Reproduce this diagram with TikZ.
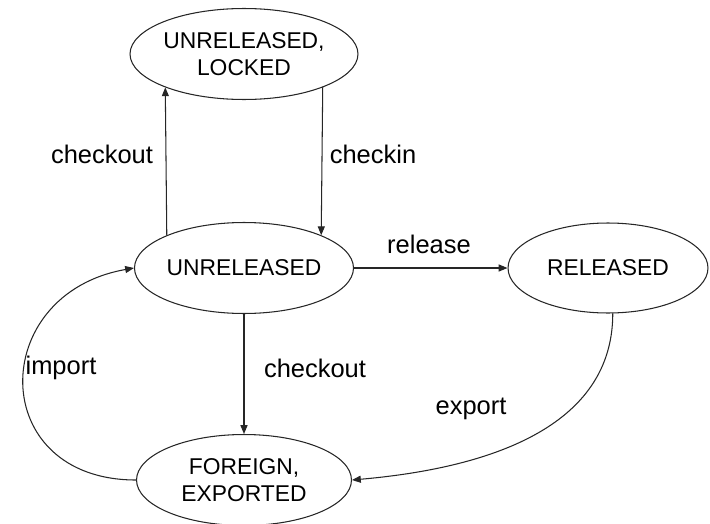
\documentclass[tikz,border=0pt]{standalone}
\usepackage{fontspec}
\setmainfont{Liberation Sans}
\usetikzlibrary{arrows.meta, shapes.geometric}

\tikzset{
  state/.style={ellipse, draw=black!85, line width=0.6pt, align=center,
    minimum width=4.3cm, minimum height=1.82cm, inner sep=0pt,
    font=\fontsize{13}{15}\selectfont},
  trans/.style={-{Triangle[length=5pt, width=4pt]}, black!85, line width=0.6pt},
  lbl/.style={font=\fontsize{14.5}{16}\selectfont, inner sep=0pt}
}

\begin{document}
\begin{tikzpicture}[x=0.02cm, y=-0.02cm, line cap=round, line join=round]

  \useasboundingbox (0,0) rectangle (710,524);

  %% ---- states ----
  \node[state] (lock)    at (244,54)  {UNRELEASED,\\LOCKED};
  \node[state] (unrel)   at (244,268) {UNRELEASED};
  \node[state, minimum width=4.0cm, minimum height=1.8cm]
               (rel)     at (608,268) {RELEASED};
  \node[state] (foreign) at (244,480) {FOREIGN,\\EXPORTED};

  %% ---- transitions ----
  \draw[trans] (unrel.157) -- (lock.203);
  \draw[trans] (lock.337) -- (unrel.23);
  \draw[trans] (unrel.east) -- (rel.west);
  \draw[trans] (unrel.south) -- (foreign.north);
  \draw[trans] (foreign.west) to[out=180, in=190, looseness=1.8] (unrel.west);
  \draw[trans] (rel.-84) to[out=-90, in=5] (foreign.east);

  %% ---- labels ----
  \node[lbl] (lcheckout) at (102,154) {checkout};
  \node[lbl] (lcheckin)  at (373,154) {checkin};
  \node[lbl] (lrelease)  at (429,244) {release};
  \node[lbl] (lcheckout2) at (315,368) {checkout};
  \node[lbl] (limport)   at (61,368)  {import};
  \node[lbl] (lexport)   at (471,409) {export};

\end{tikzpicture}
\end{document}
